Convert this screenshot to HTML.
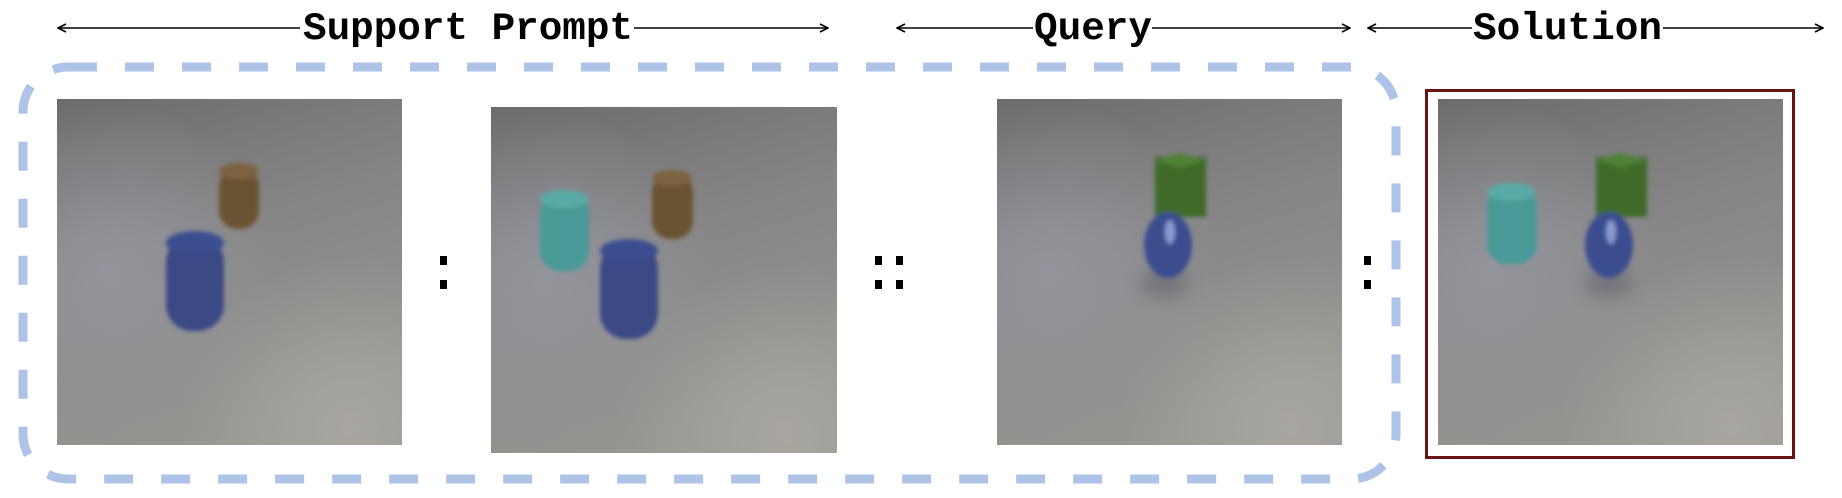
<!DOCTYPE html>
<html><head><meta charset="utf-8"><style>
html,body{margin:0;padding:0;background:#fff;}
svg{display:block;}
text{font-family:"Liberation Mono",monospace;font-weight:bold;}
</style></head><body>
<svg width="1842" height="498" viewBox="0 0 1842 498">
<defs>
<linearGradient id="bg" x1="0" y1="0" x2="0.3" y2="1">
<stop offset="0" stop-color="#6c6c6c"/><stop offset="0.45" stop-color="#858586"/><stop offset="1" stop-color="#959490"/>
</linearGradient>
<radialGradient id="glow" cx="0.15" cy="0.5" r="0.5">
<stop offset="0" stop-color="#9a9ca6" stop-opacity="0.7"/><stop offset="1" stop-color="#9a9ca6" stop-opacity="0"/>
</radialGradient>
<radialGradient id="glow2" cx="0.85" cy="0.95" r="0.5">
<stop offset="0" stop-color="#aeaba4" stop-opacity="0.8"/><stop offset="1" stop-color="#aeaba4" stop-opacity="0"/>
</radialGradient>
<filter id="blur" x="-50%" y="-50%" width="200%" height="200%"><feGaussianBlur stdDeviation="2"/></filter>
<filter id="sblur" x="-50%" y="-50%" width="200%" height="200%"><feGaussianBlur stdDeviation="8"/></filter>
<marker id="ah" markerWidth="10" markerHeight="10" refX="9" refY="5" orient="auto-start-reverse" markerUnits="userSpaceOnUse"><path d="M1,1 L9,5 L1,9" fill="none" stroke="#000" stroke-width="1.6"/></marker>
</defs>

<g>
<line x1="58" y1="28" x2="300" y2="28" stroke="#000" stroke-width="1.6" marker-start="url(#ah)"/>
<line x1="634" y1="28" x2="828" y2="28" stroke="#000" stroke-width="1.6" marker-end="url(#ah)"/>
<text x="303" y="39" font-size="39" textLength="330" lengthAdjust="spacingAndGlyphs">Support Prompt</text>
</g>
<g>
<line x1="897" y1="28" x2="1033" y2="28" stroke="#000" stroke-width="1.6" marker-start="url(#ah)"/>
<line x1="1152" y1="28" x2="1350" y2="28" stroke="#000" stroke-width="1.6" marker-end="url(#ah)"/>
<text x="1034" y="39" font-size="39" textLength="118" lengthAdjust="spacingAndGlyphs">Query</text>
</g>
<g>
<line x1="1368" y1="28" x2="1472" y2="28" stroke="#000" stroke-width="1.6" marker-start="url(#ah)"/>
<line x1="1663" y1="28" x2="1823" y2="28" stroke="#000" stroke-width="1.6" marker-end="url(#ah)"/>
<text x="1473" y="39" font-size="39" textLength="189" lengthAdjust="spacingAndGlyphs">Solution</text>
</g>

<rect x="23" y="67" width="1373" height="412" rx="45" fill="none" stroke="#aec3e8" stroke-width="9" stroke-dasharray="29 28"/>

<g>
<rect x="57" y="99" width="345" height="346" fill="url(#bg)"/>
<rect x="57" y="99" width="345" height="346" fill="url(#glow)"/>
<rect x="57" y="99" width="345" height="346" fill="url(#glow2)"/>
<g filter="url(#blur)">
<rect x="219" y="168" width="40" height="61" rx="18" fill="#6a5232"/>
<ellipse cx="239" cy="171" rx="20" ry="8" fill="#7d6440"/>
<rect x="166" y="236" width="58" height="95" rx="26" fill="#3a4a85"/>
<ellipse cx="195" cy="243" rx="29" ry="12" fill="#3a4d8e"/>
</g>
</g>

<g>
<rect x="491" y="107" width="346" height="346" fill="url(#bg)"/>
<rect x="491" y="107" width="346" height="346" fill="url(#glow)"/>
<rect x="491" y="107" width="346" height="346" fill="url(#glow2)"/>
<g filter="url(#blur)">
<rect x="652" y="174" width="41" height="65" rx="18" fill="#6a5232"/>
<ellipse cx="672" cy="178" rx="20" ry="8" fill="#7d6440"/>
<rect x="540" y="194" width="49" height="77" rx="20" fill="#4a9a98"/>
<ellipse cx="564" cy="199" rx="24" ry="9" fill="#58aaa6"/>
<rect x="600" y="243" width="58" height="96" rx="26" fill="#3a4a85"/>
<ellipse cx="629" cy="251" rx="29" ry="12" fill="#3a4d8e"/>
</g>
</g>

<g>
<rect x="997" y="99" width="345" height="346" fill="url(#bg)"/>
<rect x="997" y="99" width="345" height="346" fill="url(#glow)"/>
<rect x="997" y="99" width="345" height="346" fill="url(#glow2)"/>
<ellipse cx="1164" cy="283" rx="24" ry="14" fill="#5a5b66" opacity="0.5" filter="url(#sblur)"/>
<g filter="url(#blur)">
<rect x="1155" y="157" width="51" height="60" fill="#3f6a2a"/>
<path d="M1155,160 L1180,153 L1206,160 L1180,168Z" fill="#4f8235"/>
<ellipse cx="1168" cy="245" rx="24" ry="33" fill="#3a4d8e"/>
<ellipse cx="1170" cy="232" rx="5" ry="12" fill="#8a9ad0"/>
</g>
</g>

<g fill="#000">
<rect x="440" y="256" width="7" height="9"/><rect x="440" y="280" width="7" height="9"/>
</g>
<g fill="#000">
<rect x="875" y="256" width="7" height="9"/><rect x="875" y="280" width="7" height="9"/>
<rect x="896" y="256" width="7" height="9"/><rect x="896" y="280" width="7" height="9"/>
</g>
<g fill="#000">
<rect x="1364" y="256" width="7" height="9"/><rect x="1364" y="280" width="7" height="9"/>
</g>

<g>
<rect x="1426.5" y="90.5" width="367" height="367" fill="#fff" stroke="#6b1212" stroke-width="3"/>
<rect x="1438" y="99" width="345" height="346" fill="url(#bg)"/>
<rect x="1438" y="99" width="345" height="346" fill="url(#glow)"/>
<rect x="1438" y="99" width="345" height="346" fill="url(#glow2)"/>
<ellipse cx="1608" cy="283" rx="24" ry="14" fill="#5a5b66" opacity="0.5" filter="url(#sblur)"/>
<g filter="url(#blur)">
<rect x="1596" y="157" width="51" height="60" fill="#3f6a2a"/>
<path d="M1596,160 L1621,153 L1647,160 L1621,168Z" fill="#4f8235"/>
<rect x="1487" y="186" width="50" height="78" rx="20" fill="#4a9a98"/>
<ellipse cx="1511" cy="192" rx="24" ry="9" fill="#58aaa6"/>
<ellipse cx="1609" cy="245" rx="24" ry="33" fill="#3a4d8e"/>
<ellipse cx="1611" cy="232" rx="5" ry="12" fill="#8a9ad0"/>
</g>
</g>
</svg>
</body></html>
